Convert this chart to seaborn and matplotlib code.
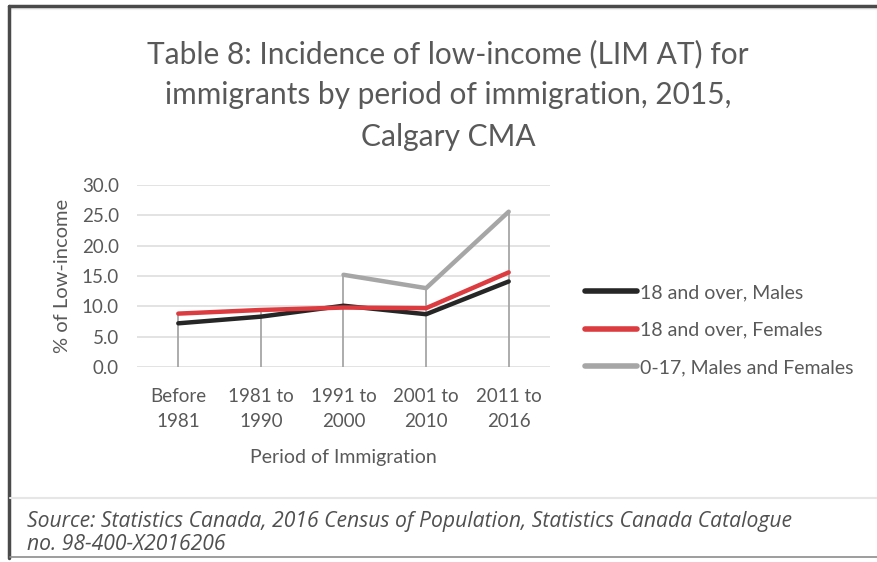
import matplotlib.pyplot as plt
from matplotlib.lines import Line2D
import numpy as np
import pandas as pd
import seaborn as sns

periods = ["Before\n1981", "1981 to\n1990", "1991 to\n2000", "2001 to\n2010", "2011 to\n2016"]
males_18 = [7.2, 8.3, 10.1, 8.7, 14.1]
females_18 = [8.8, 9.4, 9.8, 9.7, 15.6]
kids_0_17 = [np.nan, np.nan, 15.2, 13.0, 25.6]
series_names = ["18 and over, Males", "18 and over, Females", "0-17, Males and Females"]

rows = []
for name, vals in zip(series_names, [males_18, females_18, kids_0_17]):
    for i, v in enumerate(vals):
        rows.append({"pos": i, "Period": periods[i], "Series": name, "Value": v})
df = pd.DataFrame(rows)

sns.set_theme(style="white")
plt.rcParams['font.family'] = ['Lato', 'DejaVu Sans']
txt = "#595959"

fig = plt.figure(figsize=(8.78, 5.62), dpi=100)
ax = fig.add_axes([137 / 878, 1 - 367 / 562, 413 / 878, 182 / 562])

# drop lines from highest value down to axis
tops = df.groupby("pos")["Value"].max()
ax.vlines(tops.index, 0, tops.values, color="#a6a6a6", lw=1.3, zorder=1)

palette = {series_names[0]: "#262626", series_names[1]: "#dc3b3f", series_names[2]: "#a6a6a6"}
sns.lineplot(data=df.dropna(), x="pos", y="Value", hue="Series", palette=palette,
             hue_order=series_names, lw=3.2, ax=ax, sort=True, legend=False, zorder=3)

ax.set_xlim(-0.5, 4.5)
ax.set_ylim(0, 30)
ax.set_yticks(np.arange(0, 31, 5))
ax.set_yticklabels([f"{t:.1f}" for t in np.arange(0, 31, 5)], fontsize=13.5, color=txt)
ax.set_xticks(range(len(periods)))
ax.set_xticklabels(periods, fontsize=13.5, color=txt, linespacing=1.55)
ax.yaxis.grid(True, color="#dedede", lw=1.2)
ax.tick_params(axis="y", length=0, pad=13)
ax.tick_params(axis="x", length=0, pad=15)
for s in ax.spines.values():
    s.set_visible(False)
ax.set_xlabel("Period of Immigration", fontsize=14, color=txt, labelpad=14)
ax.set_ylabel("% of Low-income", fontsize=14.5, color=txt, labelpad=8)

handles = [Line2D([], [], color=palette[n], lw=4) for n in series_names]
leg = fig.legend(handles, series_names, loc="center left", bbox_to_anchor=(585 / 878, 1 - 330 / 562),
                 frameon=False, fontsize=14, handlelength=2.7, handletextpad=0.15,
                 labelspacing=1.05, borderpad=0, borderaxespad=0)
for t in leg.get_texts():
    t.set_color(txt)

fig.text(448 / 878, 1 - 95 / 562,
         "Table 8: Incidence of low-income (LIM AT) for\nimmigrants by period of immigration, 2015,\nCalgary CMA",
         ha="center", va="center", fontsize=21.5, color=txt, linespacing=1.58)

fig.text(27 / 878, 1 - 533 / 562,
         "Source: Statistics Canada, 2016 Census of Population, Statistics Canada Catalogue\nno. 98-400-X2016206",
         ha="left", va="center", fontsize=15.2, style="italic", color="#505050", linespacing=1.15,
         family=["Open Sans", "DejaVu Sans"])

# frame lines
H = 562
fig.add_artist(Line2D([10 / 878, 1], [1 - 8 / H, 1 - 8 / H], color="#f0f0f0", lw=3))
fig.add_artist(Line2D([9 / 878, 1], [1 - 6 / H, 1 - 6 / H], color="#4a4a4a", lw=2.5))
fig.add_artist(Line2D([9 / 878, 9 / 878], [1 - 6 / H, 1 - 558 / H], color="#4a4a4a", lw=2.5))
fig.add_artist(Line2D([10 / 878, 1], [1 - 498 / H, 1 - 498 / H], color="#e6e6e6", lw=1.5))
fig.add_artist(Line2D([10 / 878, 1], [1 - 557 / H, 1 - 557 / H], color="#8c8c8c", lw=1.2))

fig.savefig("out.png", dpi=100)
